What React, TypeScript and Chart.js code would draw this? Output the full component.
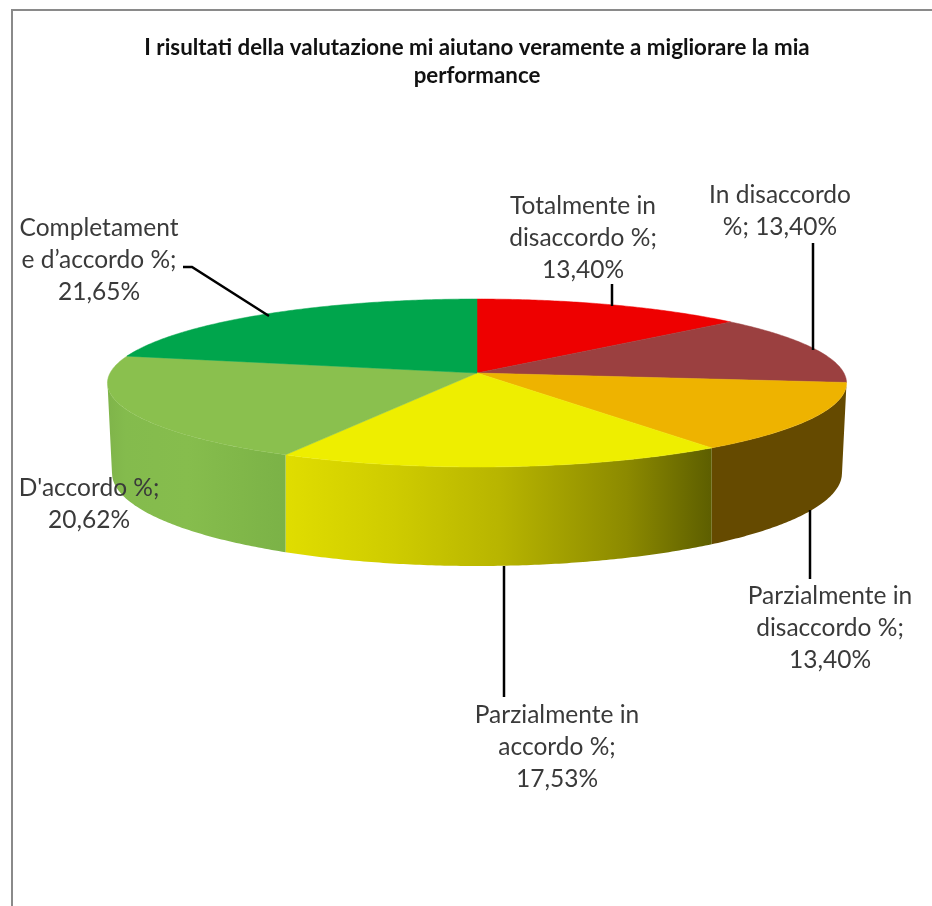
import React, { useEffect, useRef } from "react";
import { Chart, registerables } from "chart.js";

Chart.register(...registerables);

const titleLines = [
  "I risultati della valutazione mi aiutano veramente a migliorare la mia",
  "performance",
];
const categories = [
  "Totalmente in disaccordo %",
  "In disaccordo %",
  "Parzialmente in disaccordo %",
  "Parzialmente in accordo %",
  "D'accordo %",
  "Completamente d’accordo %",
];
const percentages = [13.4, 13.4, 13.4, 17.53, 20.62, 21.65];
const topColors = ["#EE0000", "#9B4040", "#EEB300", "#EEEE00", "#8AC04E", "#00A54C"];
const labelLines = [
  ["Totalmente in", "disaccordo %;", "{v}"],
  ["In disaccordo", "%; {v}"],
  ["Parzialmente in", "disaccordo %;", "{v}"],
  ["Parzialmente in", "accordo %;", "{v}"],
  ["D'accordo %;", "{v}"],
  ["Completament", "e d’accordo %;", "{v}"],
];

// layout of the labels: centre x, first line y
const labelAnchors = [
  [583, 206],
  [780, 195],
  [830, 596],
  [557, 715],
  [89, 488],
  [99, 228],
];
const leaderPaths = [
  [[612, 284], [612, 306]],
  [[813, 243], [813, 350]],
  [[810, 510], [810, 579]],
  [[504, 566], [504, 697]],
  [],
  [[183, 267], [192, 267], [269, 316]],
];
// side wall colours per slice: [x position 0..1, colour]
const wallStops: ([number, string][] | null)[] = [
  null,
  null,
  [[0, "#654A00"], [1, "#654A00"]],
  [[0, "#E0DD00"], [0.25, "#CFCC00"], [0.5, "#B8B500"], [0.8, "#8C8A00"], [1, "#5D5E00"]],
  [[0, "#7FB44A"], [0.1, "#84BB4D"], [0.45, "#86BD4D"], [0.75, "#80B749"], [1, "#7BB247"]],
  null,
];

const RX_RATIO = 1.2965;
const RY_RATIO = 0.2926;
const PERSPECTIVE = 0.119;
const LOWER_OFFSET = 100;
const LOWER_RX = 365;
const LOWER_RY = 93;

function project(el: any, a: number) {
  const u = Math.cos(a);
  const v = Math.sin(a);
  const w = 1 - PERSPECTIVE * v;
  return {
    x: el.x + (el.outerRadius * RX_RATIO * u) / w,
    y: el.y + (el.outerRadius * RY_RATIO * v) / w,
  };
}

function lower(el: any, p: { x: number; y: number }) {
  const dx = Math.max(-LOWER_RX, Math.min(LOWER_RX, p.x - el.x));
  return {
    x: el.x + dx,
    y: el.y + LOWER_OFFSET + LOWER_RY * Math.sqrt(1 - (dx / LOWER_RX) ** 2),
  };
}

function sample(a0: number, a1: number) {
  const n = Math.max(2, Math.ceil(Math.abs(a1 - a0) / 0.01));
  const out: number[] = [];
  for (let i = 0; i <= n; i++) out.push(a0 + ((a1 - a0) * i) / n);
  return out;
}

const pie3d = {
  id: "pie3d",
  beforeDatasetsDraw(chart: any) {
    const ctx: CanvasRenderingContext2D = chart.ctx;
    const arcs: any[] = chart.getDatasetMeta(0).data;
    const minA = Math.asin(PERSPECTIVE);
    const maxA = Math.PI - minA;

    arcs.forEach((el, i) => {
      const stops = wallStops[i];
      if (!stops) return;
      const a0 = Math.max(el.startAngle, minA);
      const a1 = Math.min(el.endAngle, maxA);
      if (a1 <= a0) return;
      const upper = sample(a0, a1).map((a) => project(el, a));
      const low = upper.map((p) => lower(el, p)).reverse();
      const xs = upper.map((p) => p.x);
      const g = ctx.createLinearGradient(Math.min(...xs), 0, Math.max(...xs), 0);
      stops.forEach(([o, c]) => g.addColorStop(o, c));
      ctx.beginPath();
      [...upper, ...low].forEach((p, j) => (j ? ctx.lineTo(p.x, p.y) : ctx.moveTo(p.x, p.y)));
      ctx.closePath();
      ctx.fillStyle = g;
      ctx.fill();
    });

    arcs.forEach((el, i) => {
      ctx.beginPath();
      ctx.moveTo(el.x, el.y);
      sample(el.startAngle, el.endAngle).forEach((a) => {
        const p = project(el, a);
        ctx.lineTo(p.x, p.y);
      });
      ctx.closePath();
      ctx.fillStyle = topColors[i];
      ctx.strokeStyle = topColors[i];
      ctx.lineWidth = 0.5;
      ctx.fill();
      ctx.stroke();
    });
    return false;
  },
  afterDraw(chart: any) {
    const ctx: CanvasRenderingContext2D = chart.ctx;
    ctx.save();
    ctx.strokeStyle = "#000000";
    ctx.lineWidth = 2.5;
    leaderPaths.forEach((path) => {
      if (!path.length) return;
      ctx.beginPath();
      path.forEach(([x, y], j) => (j ? ctx.lineTo(x, y) : ctx.moveTo(x, y)));
      ctx.stroke();
    });
    ctx.font = "24.5px Lato";
    ctx.fillStyle = "#3A3A3A";
    ctx.textAlign = "center";
    ctx.textBaseline = "middle";
    labelLines.forEach((lines, i) => {
      const value = percentages[i].toFixed(2).replace(".", ",") + "%";
      const [x, y] = labelAnchors[i];
      lines.forEach((line, j) => {
        ctx.fillText(line.replace("{v}", value), x, y + j * 32);
      });
    });
    ctx.restore();
  },
};

export default function App() {
  const ref = useRef<HTMLCanvasElement>(null);
  useEffect(() => {
    const chart = new Chart(ref.current!, {
      type: "pie",
      data: {
        labels: categories,
        datasets: [{ data: percentages, backgroundColor: topColors, borderWidth: 0 }],
      },
      options: {
        animation: false,
        responsive: false,
        layout: { padding: { left: 22, right: 0, top: 34, bottom: 250 } },
        plugins: {
          legend: { display: false },
          tooltip: { enabled: false },
          title: {
            display: true,
            text: titleLines,
            color: "#111111",
            font: { family: "Lato", size: 22.3, weight: "bold", lineHeight: 1.256 },
            padding: { top: 0, bottom: 0 },
          },
        },
      },
      plugins: [pie3d],
    } as any);
    return () => chart.destroy();
  }, []);
  return (
    <div style={{ position: "absolute", left: 0, top: 0, width: 932, height: 906, background: "#fff", overflow: "hidden" }}>
      <canvas ref={ref} width={932} height={906} style={{ position: "absolute", left: 0, top: 0 }} />
      <div
        style={{
          position: "absolute",
          left: 11,
          top: 9,
          right: 0,
          bottom: 0,
          borderLeft: "2.5px solid #8A8A8A",
          borderTop: "2.5px solid #8A8A8A",
        }}
      />
    </div>
  );
}
